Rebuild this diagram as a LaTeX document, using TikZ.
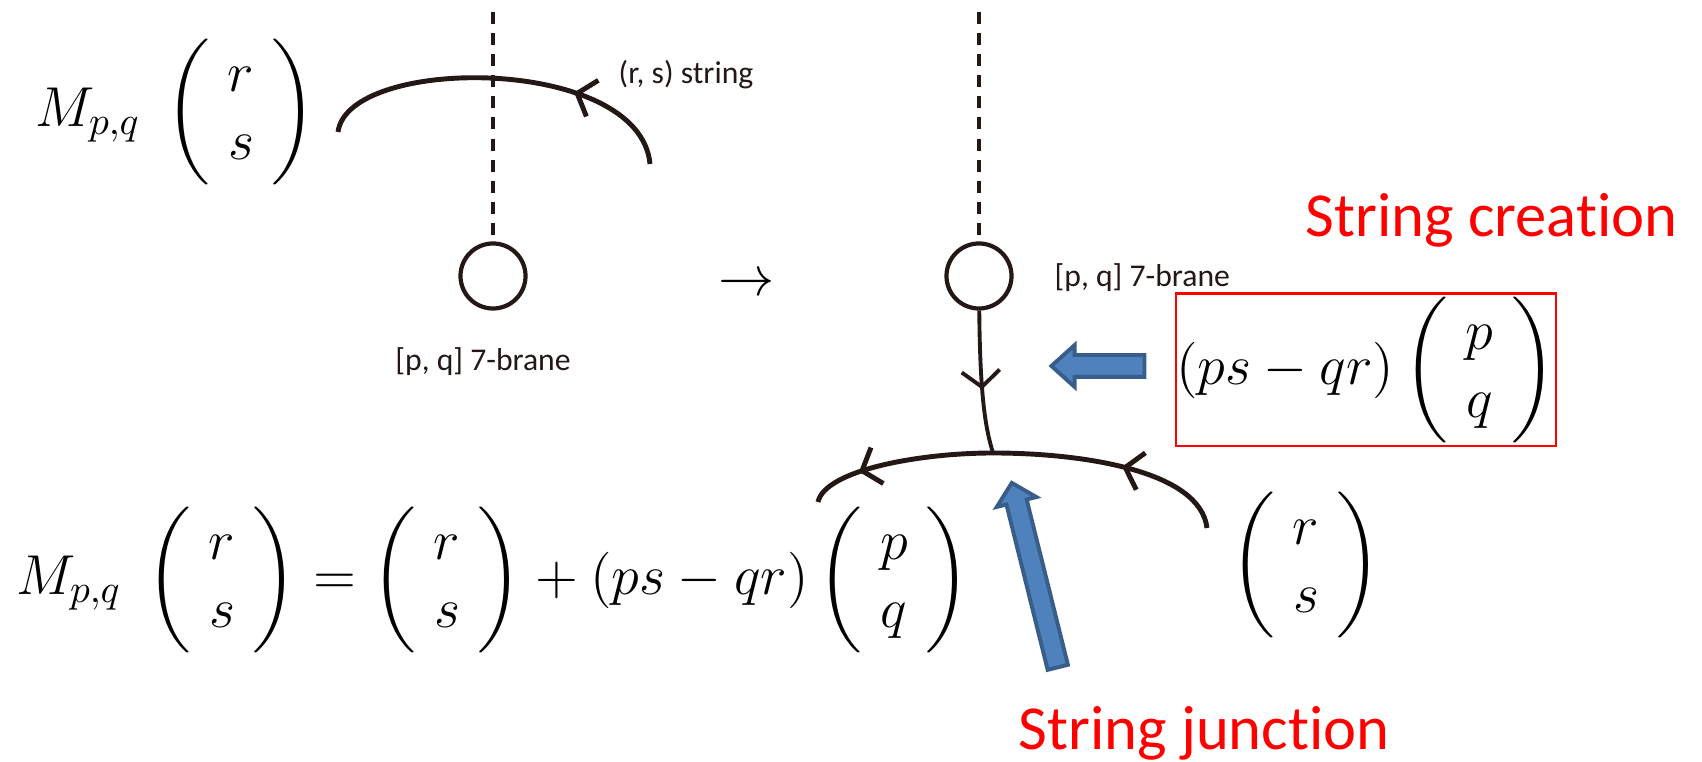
\RequirePackage{fix-cm}
\documentclass[tikz,border=0pt]{standalone}
\usepackage{amsmath}
\usepackage{fontspec}
\usetikzlibrary{arrows.meta, shapes.arrows, decorations.markings}
\newfontfamily\labelfont[Ligatures=NoCommon]{Carlito}
\definecolor{sink}{HTML}{231815}
\definecolor{sred}{HTML}{FF0000}
\definecolor{sblue}{HTML}{4F81BD}
\definecolor{sblueline}{HTML}{385D8A}
\tikzset{
  mathnode/.style={inner sep=0pt, text=black, font=\fontsize{16}{19.2}\selectfont},
  tag/.style={inner sep=0pt, text=sink, font=\labelfont\fontsize{9}{11}\selectfont},
  redtag/.style={inner sep=0pt, text=sred, font=\labelfont\fontsize{17.8}{21}\selectfont},
  brane/.style={draw=sink, circle, line width=1.2pt, minimum size=0.65cm, inner sep=0pt},
  cut/.style={draw=sink, line width=1.1pt, dash pattern=on 3.4pt off 2.6pt},
  pqstring/.style={draw=sink, line width=1.4pt},
  midarrow/.style={postaction={decorate}, decoration={markings,
      mark=at position #1 with {\arrow{Straight Barb[length=0.16cm, width=0.38cm]}}}},
  blockarrow/.style={single arrow, fill=sblue, draw=sblueline, line width=1.1pt,
      inner sep=0pt, text depth=0pt, minimum width=1pt, single arrow head indent=0pt},
}

\begin{document}
\begin{tikzpicture}[x=0.01cm, y=-0.01cm]
  \useasboundingbox (0,0) rectangle (1702,762);

  % before
  \node[mathnode, anchor=west] (mtop) at (35,112) {$M_{p,q}\;\left(\begin{array}{c} r\\ s\end{array}\right)$};
  \node[brane] (brane1) at (493,276) {};
  \coordinate (top1) at (493,12);
  \draw[cut] (top1) -- (brane1);
  \coordinate (tl) at (338,132);
  \coordinate (tr) at (650,164);
  \draw[pqstring, midarrow=0.3] (tr) .. controls (640,55) and (348,55) .. (tl);
  \node[tag] (rslabel) at (686,75) {(r, s) string};
  \node[tag] (brlabel1) at (483,362) {[p, q] 7-brane};

  \node[mathnode] (to) at (747,285) {$\rightarrow$};

  % after
  \node[brane] (brane2) at (979,276) {};
  \coordinate (top2) at (979,12);
  \draw[cut] (top2) -- (brane2);
  \node[tag, anchor=west] (brlabel2) at (1054,278) {[p, q] 7-brane};

  \coordinate (jct) at (993,453);
  \coordinate (lend) at (818,502);
  \coordinate (rend) at (1207,528);
  \draw[pqstring, line width=1.1pt, midarrow=0.55] (brane2) .. controls (980,400) and (986,430) .. (jct);
  \draw[pqstring, midarrow=0.72] (jct) .. controls (920,453) and (825,470) .. (lend);
  \draw[pqstring, midarrow=0.46] (rend) .. controls (1200,470) and (1080,453) .. (jct);

  \node[redtag, anchor=base west] (creation) at (1305,237) {String creation};
  \node[mathnode, draw=sred, line width=0.6pt, inner xsep=0pt, inner ysep=1pt] (newstr) at (1366,370) {$(ps-qr)\left(\begin{array}{c} p\\ q\end{array}\right)$};
  \node[blockarrow, minimum height=0.93cm, text height=0.18cm, single arrow head extend=0.10cm,
        single arrow tip angle=84, rotate=180] (pointer) at (1104,366) {};

  \node[mathnode, anchor=west] (mbot) at (16,580) {$M_{p,q}\;\left(\begin{array}{c} r\\ s\end{array}\right) = \left(\begin{array}{c} r\\ s\end{array}\right) + (ps-qr)\left(\begin{array}{c} p\\ q\end{array}\right)$};
  \node[mathnode] (rsvec) at (1306,565) {$\left(\begin{array}{c} r\\ s\end{array}\right)$};

  \node[blockarrow, minimum height=1.90cm, text height=0.17cm, single arrow head extend=0.10cm,
        single arrow tip angle=92, rotate=104] (jpointer) at (1036,580) {};
  \node[redtag, anchor=base west] (junction) at (1018,750) {String junction};
\end{tikzpicture}
\end{document}
